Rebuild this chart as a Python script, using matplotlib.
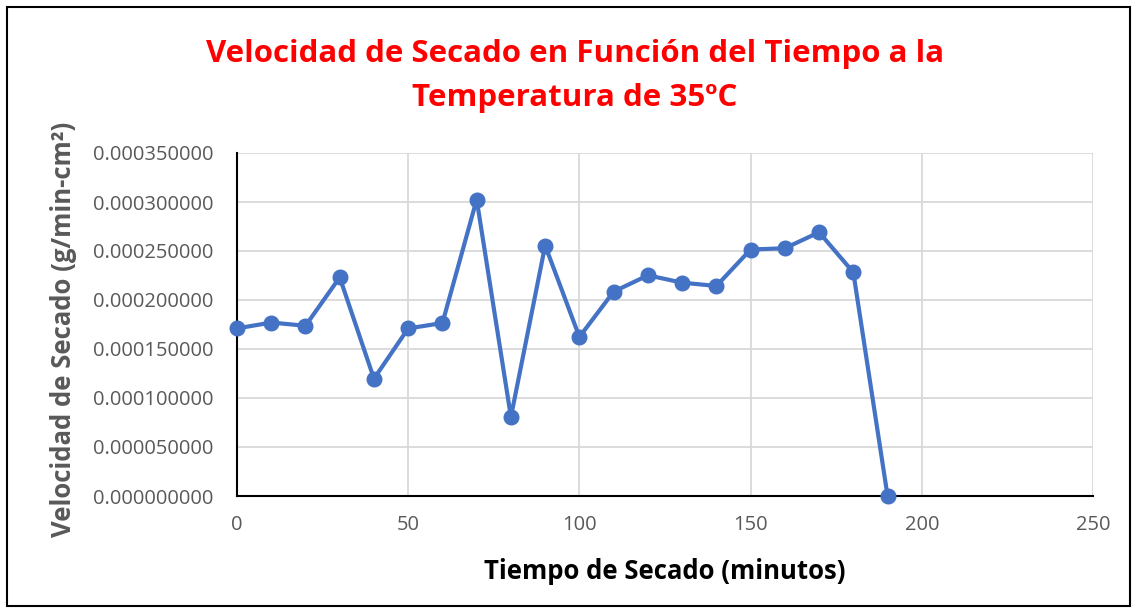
import matplotlib
matplotlib.use("Agg")
import matplotlib.pyplot as plt
from matplotlib.ticker import MultipleLocator, FormatStrFormatter
from matplotlib.patches import Rectangle

tiempo = [0, 10, 20, 30, 40, 50, 60, 70, 80, 90, 100, 110, 120, 130, 140, 150, 160, 170, 180, 190]
velocidad = [0.0001710, 0.0001770, 0.0001737, 0.0002231, 0.0001197, 0.0001710, 0.0001765,
             0.0003025, 0.0000807, 0.0002556, 0.0001623, 0.0002085, 0.0002252, 0.0002177,
             0.0002143, 0.0002515, 0.0002528, 0.0002691, 0.0002282, 0.0000000]

titulo = "Velocidad de Secado en Función del Tiempo a la\nTemperatura de 35ºC"
xlabel = "Tiempo de Secado (minutos)"
ylabel = "Velocidad de Secado (g/min-cm²)"

plt.rcParams['font.family'] = ['Open Sans', 'DejaVu Sans']

W, H = 1137, 613
fig = plt.figure(figsize=(W / 100, H / 100), dpi=100)
ax = fig.add_axes([237 / W, 1 - 496 / H, (1093 - 237) / W, (496 - 153) / H])

ax.plot(tiempo, velocidad, color='#4472C4', linewidth=3, marker='o', markersize=10.5,
        zorder=3, clip_on=False)

ax.set_xlim(0, 250)
ax.set_ylim(0, 0.00035)
ax.xaxis.set_major_locator(MultipleLocator(50))
ax.yaxis.set_major_locator(MultipleLocator(0.00005))
ax.yaxis.set_major_formatter(FormatStrFormatter('%.9f'))
ax.grid(True, color='#D9D9D9', linewidth=1.3, zorder=0)
ax.set_axisbelow(True)
for s in ['top', 'right']:
    ax.spines[s].set_visible(False)
for s in ['left', 'bottom']:
    ax.spines[s].set_color('black')
    ax.spines[s].set_linewidth(1.5)
    ax.spines[s].set_zorder(2)
ax.tick_params(axis='both', length=0, labelsize=14.5, labelcolor='#595959')
ax.tick_params(axis='x', pad=14)
ax.tick_params(axis='y', pad=17)

ax.set_xlabel(xlabel, fontsize=18.5, fontweight='bold', color='black')
ax.set_ylabel(ylabel, fontsize=18.5, fontweight='bold', color='#595959')
ax.xaxis.set_label_coords(0.5, -0.18)
ax.yaxis.set_label_coords(-0.187, 0.487)

fig.text(575 / W, 1 - 76 / H, titulo, ha='center', va='center', fontsize=22.5,
         fontweight='bold', color='#FF0000', linespacing=1.6)

fig.patches.append(Rectangle((7 / W, 7 / H), (1130 - 7) / W, (606 - 7) / H,
                             transform=fig.transFigure, fill=False,
                             edgecolor='black', linewidth=1.5))

fig.savefig('out.png', dpi=100)
